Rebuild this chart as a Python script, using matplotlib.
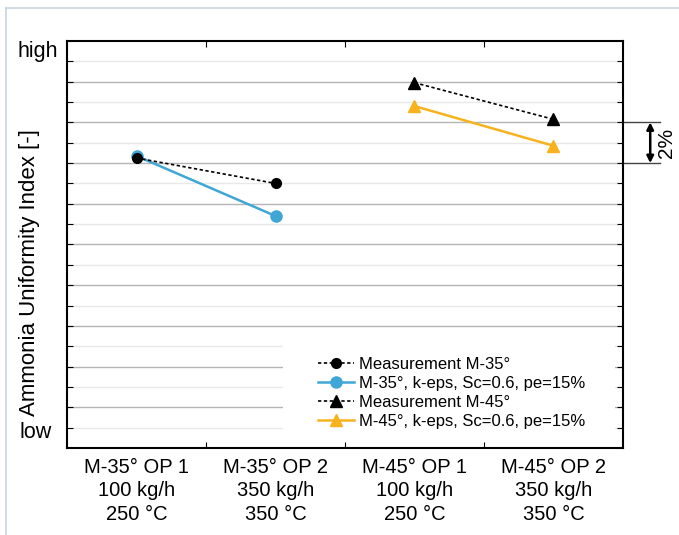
import matplotlib.pyplot as plt
import matplotlib.transforms as mtransforms
from matplotlib.lines import Line2D
from matplotlib.patches import Rectangle

plt.rcParams['font.family'] = ['Liberation Sans', 'DejaVu Sans']

# Operating points (x categories)
categories = ['M-35° OP 1\n100 kg/h\n250 °C', 'M-35° OP 2\n350 kg/h\n350 °C',
              'M-45° OP 1\n100 kg/h\n250 °C', 'M-45° OP 2\n350 kg/h\n350 °C']

# Uniformity index values (1 unit = 1 %, relative scale)
meas_35_x = [0, 1]
meas_35 = [14.25, 13.0]
sim_35 = [14.35, 11.4]
meas_45_x = [2, 3]
meas_45 = [17.95, 16.15]
sim_45 = [16.8, 14.85]

legend_labels = ['Measurement M-35°', 'M-35°, k-eps, Sc=0.6, pe=15%',
                 'Measurement M-45°', 'M-45°, k-eps, Sc=0.6, pe=15%']

cyan = '#3fa6d6'
orange = '#f7b21e'

fig = plt.figure(figsize=(6.79, 5.35), dpi=100)
ax = fig.add_axes([0.0987, 0.1626, 0.8188, 0.7608])

# thin frame around the figure (left and top edge)
fig.add_artist(Line2D([0.009, 0.009], [0, 0.985], color='#c8d4e0', lw=1.2))
fig.add_artist(Line2D([0.009, 1.0], [0.985, 0.985], color='#c8d4e0', lw=1.2))

# horizontal grid
for yv in range(1, 20):
    c = '#b4b4b4' if yv % 2 == 0 else '#e8e8e8'
    ax.axhline(yv, color=c, lw=1.0, zorder=0)

# white box behind the legend hides the grid there
ax.add_patch(Rectangle((0.388, 0.02), 0.598, 0.27, transform=ax.transAxes,
                       facecolor='white', edgecolor='none', zorder=0.5))

l1, = ax.plot(meas_35_x, meas_35, ls=(0, (2, 1.5)), color='black', lw=1.2,
              marker='o', ms=7, zorder=3)
l2, = ax.plot(meas_35_x, sim_35, ls='-', color=cyan, lw=1.8,
              marker='o', ms=8, zorder=2)
l3, = ax.plot(meas_45_x, meas_45, ls=(0, (2, 1.5)), color='black', lw=1.2,
              marker='^', ms=8, zorder=3)
l4, = ax.plot(meas_45_x, sim_45, ls='-', color=orange, lw=1.8,
              marker='^', ms=9, zorder=2)

ax.set_xlim(-0.5, 3.5)
ax.set_ylim(0, 20)

ax.set_xticks([0.5, 1.5, 2.5])
ax.set_xticklabels([])
ax.set_xticks(range(4), minor=True)
ax.set_xticklabels(categories, minor=True, fontsize=14.5, linespacing=1.3)
ax.tick_params(axis='x', which='minor', length=0, pad=7)
ax.tick_params(axis='x', which='major', direction='in', top=True, length=4)

ax.set_yticks(range(1, 20))
ax.set_yticklabels([])
ax.tick_params(axis='y', direction='in', right=True, length=4)

ytrans = mtransforms.blended_transform_factory(ax.transAxes, ax.transData)
ax.text(-0.016, 19.46, 'high', transform=ytrans, ha='right', va='center',
        fontsize=15.5)
ax.text(-0.027, 0.74, 'low', transform=ytrans, ha='right', va='center',
        fontsize=15.5)

for s in ax.spines.values():
    s.set_linewidth(1.5)

ax.set_ylabel('Ammonia Uniformity Index [-]', fontsize=16)
ax.yaxis.set_label_coords(-0.049, 0.43)

leg = ax.legend([l1, l2, l3, l4], legend_labels, loc='center left',
                bbox_to_anchor=(0.451, 0.135), fontsize=12, frameon=False,
                handlelength=2.2, handletextpad=0.3, labelspacing=0.25,
                borderpad=0, borderaxespad=0)
leg.set_zorder(4)

# 2 % scale bracket on the right
for yv in (16, 14):
    ax.plot([1.0, 1.066], [yv, yv], color='#444444', lw=1.0,
            transform=ytrans, clip_on=False)
ax.annotate('', xy=(1.049, 16), xytext=(1.049, 14), xycoords=ytrans,
            textcoords=ytrans,
            arrowprops=dict(arrowstyle='<|-|>', color='black', lw=1.8,
                            mutation_scale=10, shrinkA=0, shrinkB=0))
ax.text(1.078, 15, '2%', transform=ytrans, rotation=90, fontsize=15,
        va='center', ha='center')

fig.savefig('out.png', dpi=100)
